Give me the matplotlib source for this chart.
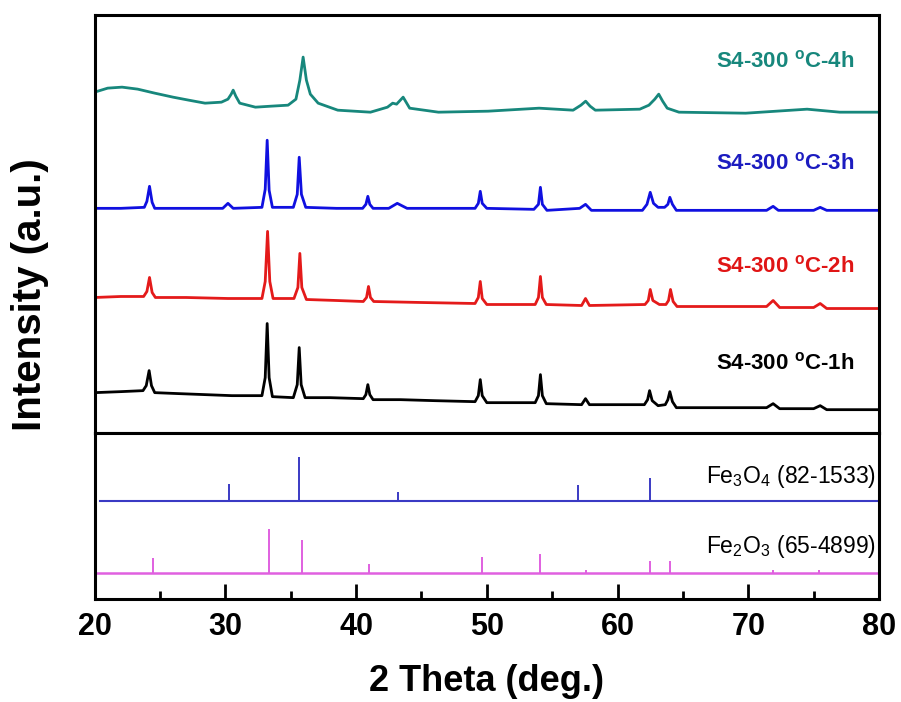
import matplotlib

matplotlib.use("Agg")
import matplotlib.pyplot as plt
from matplotlib.ticker import MultipleLocator


# 2 theta / intensity vertices (a.u.)
TT_1H = [20.0, 22.0, 23.7, 23.95, 24.17, 24.35, 24.6, 26.5, 28.5, 30.5, 32.8, 33.05, 33.2, 33.35, 33.6,
         35.2, 35.5, 35.65, 35.8, 36.1, 38.0, 40.55, 40.75, 40.9, 41.05, 41.3, 43.4, 46.0, 49.1, 49.35,
         49.5, 49.65, 50.0, 53.7, 53.95, 54.1, 54.25, 54.55, 57.25, 57.55, 57.85, 62.05, 62.3, 62.45,
         62.65, 63.1, 63.65, 63.85, 64.0, 64.2, 64.5, 68.0, 71.4, 71.9, 72.4, 75.0, 75.5, 76.0, 80.0]
INT_1H = [40, 41, 42, 47, 62, 47, 40, 39, 38, 37, 37, 55, 109, 55, 36,
          35, 48, 85, 48, 35, 35, 34, 38, 48, 38, 33, 33, 32, 31, 37,
          53, 37, 30, 30, 37, 58, 37, 29, 28, 34, 28, 28, 33, 42,
          32, 27, 28, 33, 41, 31, 25, 25, 25, 29, 24, 24, 27, 23, 23]

TT_2H = [20.0, 22.0, 23.75, 24.0, 24.2, 24.4, 24.65, 27.0, 30.2, 32.8, 33.05, 33.23, 33.4, 33.65,
         35.25, 35.55, 35.7, 35.85, 36.2, 38.5, 40.55, 40.8, 40.95, 41.1, 41.35, 45.0, 49.1, 49.35,
         49.5, 49.65, 50.0, 53.7, 53.95, 54.1, 54.25, 54.55, 57.25, 57.55, 57.85, 62.1, 62.35, 62.5,
         62.7, 63.2, 63.7, 63.9, 64.05, 64.25, 64.55, 68.0, 71.4, 71.9, 72.4, 75.0, 75.5, 76.0, 80.0]
INT_2H = [135, 136, 136, 141, 155, 140, 135, 135, 134, 134, 151, 201, 151, 134,
          134, 145, 179, 145, 133, 132, 131, 135, 146, 135, 131, 130, 129, 135,
          151, 134, 128, 128, 135, 156, 135, 128, 127, 134, 127, 128, 132, 143,
          132, 128, 128, 132, 143, 131, 126, 126, 126, 132, 125, 125, 129, 124, 124]

TT_3H = [20.0, 22.0, 23.8, 24.0, 24.2, 24.4, 24.6, 27.5, 29.8, 30.2, 30.6, 32.8, 33.05, 33.2, 33.35,
         33.6, 35.2, 35.5, 35.65, 35.82, 36.15, 38.5, 40.5, 40.75, 40.9, 41.05, 41.3, 42.5, 43.15,
         43.9, 46.5, 49.1, 49.35, 49.5, 49.65, 50.0, 53.6, 53.95, 54.1, 54.25, 54.6, 57.1, 57.55,
         58.0, 61.9, 62.25, 62.5, 62.75, 63.1, 63.6, 63.85, 64.0, 64.2, 64.5, 68.0, 71.4, 71.9,
         72.3, 75.0, 75.5, 76.0, 80.0]
INT_3H = [224, 224, 225, 231, 246, 230, 224, 224, 224, 229, 224, 225, 243, 292, 242,
          225, 225, 238, 275, 238, 225, 224, 224, 228, 236, 228, 224, 224, 229,
          224, 224, 224, 229, 241, 229, 224, 223, 228, 245, 228, 222, 224, 228,
          222, 222, 228, 240, 229, 225, 225, 228, 235, 228, 222, 222, 222, 226,
          222, 222, 225, 222, 222]

TT_4H = [20.0, 21.0, 22.1, 23.3, 24.6, 26.0, 27.2, 28.45, 29.7, 30.2, 30.45, 30.6, 30.8, 31.1, 32.3,
         33.5, 34.8, 35.4, 35.7, 35.95, 36.2, 36.5, 37.1, 38.6, 41.1, 42.4, 42.8, 43.1, 43.6, 44.1,
         46.3, 50.1, 54.0, 56.6, 57.2, 57.56, 57.9, 58.3, 61.7, 62.4, 62.85, 63.15, 63.45, 63.8,
         64.7, 69.8, 74.5, 77.0, 80.0]
INT_4H = [340, 344, 345, 343, 339, 335, 332, 329, 330, 333, 338, 342, 336, 329, 325,
          326, 327, 333, 352, 375, 352, 338, 329, 322, 320, 325, 329, 328, 335, 324,
          320, 321, 324, 322, 327, 331, 326, 322, 323, 327, 333, 338, 331, 324,
          320, 319, 323, 320, 320]

# reference cards (stick positions / relative heights)
FE3O4_POS = [30.3, 35.65, 43.2, 57.0, 62.5]
FE3O4_H = [18, 45, 9, 16, 24]
FE2O3_POS = [24.45, 33.35, 35.85, 41.0, 49.6, 54.1, 57.6, 62.45, 64.0, 71.9, 75.4]
FE2O3_H = [15, 44, 33, 9, 16, 19, 3, 12, 12, 3, 3]

SAMPLES = ["S4-300 $^{\\mathregular{o}}$C-1h", "S4-300 $^{\\mathregular{o}}$C-2h",
           "S4-300 $^{\\mathregular{o}}$C-3h", "S4-300 $^{\\mathregular{o}}$C-4h"]
CARDS = ["Fe$_3$O$_4$ (82-1533)", "Fe$_2$O$_3$ (65-4899)"]

TEAL = "#17877c"
BLUE = "#1010e0"
RED = "#e41a1a"
FE3O4_COLOR = "#3a3ac4"
FE2O3_COLOR = "#e060e0"

SANS = ["Liberation Sans", "DejaVu Sans"]


def style_axes(ax):
    for spine in ax.spines.values():
        spine.set_linewidth(2.2)
    ax.set_xlim(20, 80)
    ax.set_yticks([])


def main():
    plt.rcParams["font.family"] = SANS
    plt.rcParams["mathtext.fontset"] = "custom"
    plt.rcParams["mathtext.rm"] = "Liberation Sans"
    plt.rcParams["mathtext.bf"] = "Liberation Sans:bold"
    plt.rcParams["mathtext.it"] = "Liberation Sans:italic"

    fig = plt.figure(figsize=(9.01, 7.02), dpi=100)
    ax_top = fig.add_axes([0.105, 0.3836, 0.8706, 0.595])
    ax_bot = fig.add_axes([0.105, 0.1467, 0.8706, 0.2369], sharex=ax_top)

    # measured patterns
    ax_top.plot(TT_1H, INT_1H, color="black", lw=2.0)
    ax_top.plot(TT_2H, INT_2H, color=RED, lw=2.0)
    ax_top.plot(TT_3H, INT_3H, color=BLUE, lw=2.0)
    ax_top.plot(TT_4H, INT_4H, color=TEAL, lw=2.0)
    style_axes(ax_top)
    ax_top.set_ylim(0, 417)
    ax_top.tick_params(axis="x", which="both", bottom=False, labelbottom=False)

    label_y = [69, 166, 269, 371]
    label_colors = ["black", "#e01515", "#1c1cc0", TEAL]
    for text, y, c in zip(SAMPLES, label_y, label_colors):
        ax_top.text(78.1, y, text, color=c, fontsize=16, fontweight="bold",
                    ha="right", va="center")

    # standard cards
    ax_bot.plot([20.4, 80], [98, 98], color=FE3O4_COLOR, lw=1.5)
    ax_bot.vlines(FE3O4_POS, 98, [98 + h for h in FE3O4_H], color=FE3O4_COLOR, lw=1.4)
    ax_bot.plot([20, 80], [26, 26], color=FE2O3_COLOR, lw=1.8)
    ax_bot.vlines(FE2O3_POS, 26, [26 + h for h in FE2O3_H], color=FE2O3_COLOR, lw=1.4)
    style_axes(ax_bot)
    ax_bot.set_ylim(0, 167)
    ax_bot.text(79.8, 123, CARDS[0], fontsize=16.5, ha="right", va="center")
    ax_bot.text(79.8, 53, CARDS[1], fontsize=16.5, ha="right", va="center")

    ax_bot.xaxis.set_major_locator(MultipleLocator(10))
    ax_bot.xaxis.set_minor_locator(MultipleLocator(5))
    ax_bot.tick_params(axis="x", which="major", direction="in", length=11, width=2.0, pad=9)
    ax_bot.tick_params(axis="x", which="minor", direction="in", length=6, width=2.0)
    for lab in ax_bot.get_xticklabels():
        lab.set_fontweight("bold")
        lab.set_fontsize(22)

    ax_bot.set_xlabel("2 Theta (deg.)", fontweight="bold", fontsize=26, labelpad=16)
    fig.text(0.033, 0.58, "Intensity (a.u.)", rotation=90, fontweight="bold", fontsize=29,
             ha="center", va="center")

    fig.savefig("out.png", dpi=100)
    return 0


if __name__ == "__main__":
    raise SystemExit(main())
